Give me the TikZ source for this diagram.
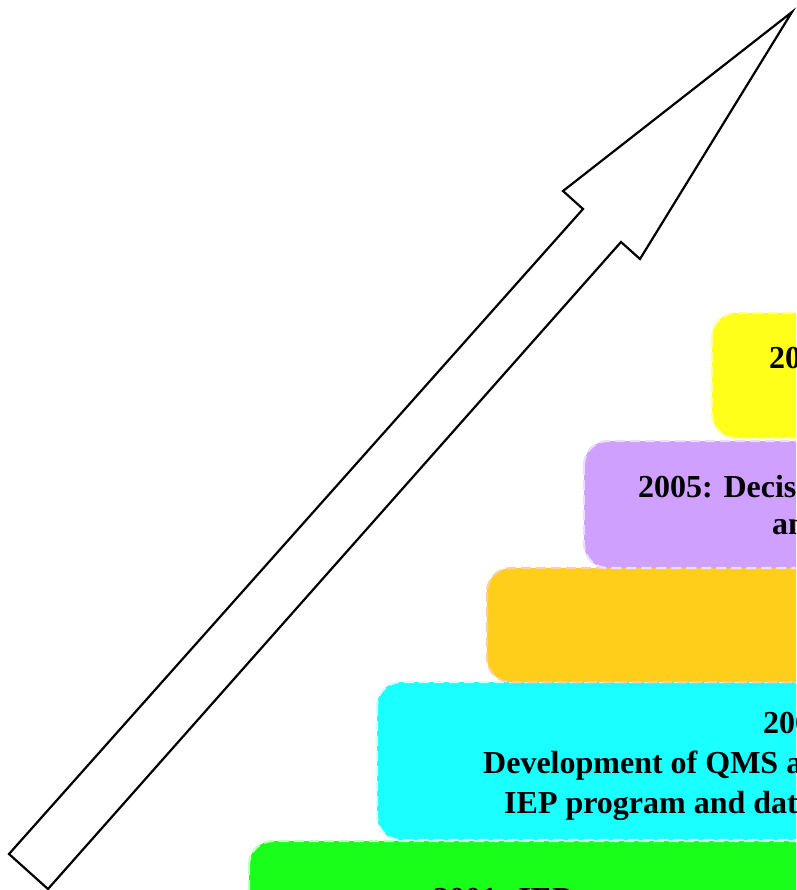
\documentclass[tikz,border=0pt]{standalone}
\usepackage{fontspec}
\setmainfont{Liberation Serif}
\definecolor{yellowfill}{HTML}{FFFF1A}
\definecolor{yellowedge}{HTML}{FFFF99}
\definecolor{purplefill}{HTML}{D0A0FF}
\definecolor{purpleedge}{HTML}{EBDDFF}
\definecolor{orangefill}{HTML}{FFCE1A}
\definecolor{orangeedge}{HTML}{FFCFA0}
\definecolor{cyanfill}{HTML}{1AFFFF}
\definecolor{cyanedge}{HTML}{D2FFFF}
\definecolor{greenfill}{HTML}{1AFF1A}
\definecolor{greenedge}{HTML}{C0FFC0}
\begin{document}
\begin{tikzpicture}[x=1pt,y=-1pt,
  stage/.style={rounded corners=24pt, line width=2.2pt, dash pattern=on 10pt off 5pt},
  label/.style={font=\bfseries\fontsize{32}{39}\selectfont, anchor=base west, inner sep=0pt}]
\useasboundingbox (0,0) rectangle (796,890);
\clip (0,0) rectangle (796,890);

% stacked stages, bottom to top
\path[stage, fill=greenfill, draw=greenedge]   (249,841) rectangle (1300,1000);
\path[stage, fill=cyanfill, draw=cyanedge]     (377,682) rectangle (1300,840);
\path[stage, fill=orangefill, draw=orangeedge] (487,568) rectangle (1300,682);
\path[stage, fill=purplefill, draw=purpleedge] (584,441) rectangle (1300,568);
\path[stage, fill=yellowfill, draw=yellowedge] (712,313) rectangle (1300,438);

% stage texts
\node[label] (y1) at (769,368) {20};
\node[label] (p1) at (638,497) {2005: Decisi};
\node[label] (p2) at (772,534) {an};
\node[label] (c1) at (763,733) {200};
\node[label] (c2) at (483,773) {Development of QMS a};
\node[label] (c3) at (504,813) {IEP program and dat};
\node[label] (g1) at (433,909.5) {2001: IEP};

% rising arrow
\draw[line width=2.2pt, line join=miter, fill=white]
  (48,889) -- (621,242) -- (640,259) -- (792,12) -- (563,191) -- (583,209) -- (9,854) -- cycle;
\end{tikzpicture}
\end{document}
